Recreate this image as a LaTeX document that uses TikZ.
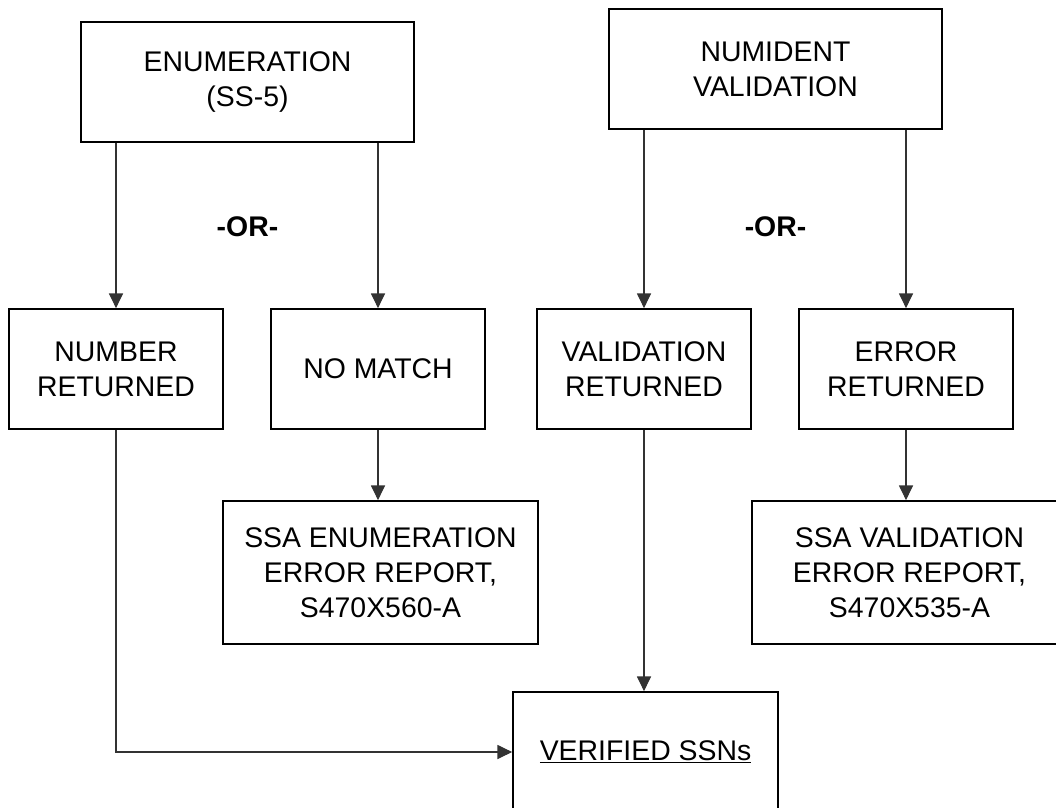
\documentclass[tikz,border=0pt]{standalone}
\usepackage{fontspec}
\setmainfont{Liberation Sans}
\usetikzlibrary{arrows.meta}

\begin{document}
\begin{tikzpicture}[x=0.75pt,y=-0.75pt,
    box/.style={draw,line width=1.3pt,align=center,inner sep=0pt,
      font=\fontsize{21.3}{26.25}\selectfont},
    topbox/.style={box,minimum width=249.75pt,minimum height=90pt},
    midbox/.style={box,minimum width=160.5pt,minimum height=90pt},
    repbox/.style={box,minimum width=236.25pt,minimum height=107.25pt},
    flow/.style={-{Triangle[length=11pt,width=10.5pt]},line width=0.8pt,black!80},
    orlabel/.style={font=\fontsize{21.3}{26.25}\selectfont\bfseries}]
                \useasboundingbox (0,0) rectangle (1056,807);
                \node[topbox] (enum) at (247.5,82) {ENUMERATION\\(SS-5)};
                \node[topbox] (numid) at (775.5,69) {NUMIDENT\\VALIDATION};
                \node[midbox] (numret) at (116,369) {NUMBER\\RETURNED};
                \node[midbox] (nomatch) at (378,369) {NO MATCH};
                \node[midbox] (valret) at (644,369) {VALIDATION\\RETURNED};
                \node[midbox] (errret) at (906,369) {ERROR\\RETURNED};
                \node[repbox] (enumrep) at (380.5,572.5) {SSA ENUMERATION\\ERROR REPORT,\\S470X560-A};
                \node[repbox] (valrep) at (909.5,572.5) {SSA VALIDATION\\ERROR REPORT,\\S470X535-A};
                \node[box,minimum width=198.75pt,minimum height=90pt] (verified) at (645.5,752) {\underline{VERIFIED SSNs}};
                \node[orlabel] (or1) at (247.5,227) {-OR-};
                \node[orlabel] (or2) at (775.5,227) {-OR-};
                \draw[flow] (enum.south -| numret) -- (numret);
                \draw[flow] (enum.south -| nomatch) -- (nomatch);
                \draw[flow] (numid.south -| valret) -- (valret);
                \draw[flow] (numid.south -| errret) -- (errret);
                \draw[flow] (nomatch) -- (nomatch |- enumrep.north);
                \draw[flow] (errret) -- (errret |- valrep.north);
                \draw[flow] (valret) -- (valret |- verified.north);
                \draw[flow] (numret) |- (verified);
            \end{tikzpicture}
\end{document}
